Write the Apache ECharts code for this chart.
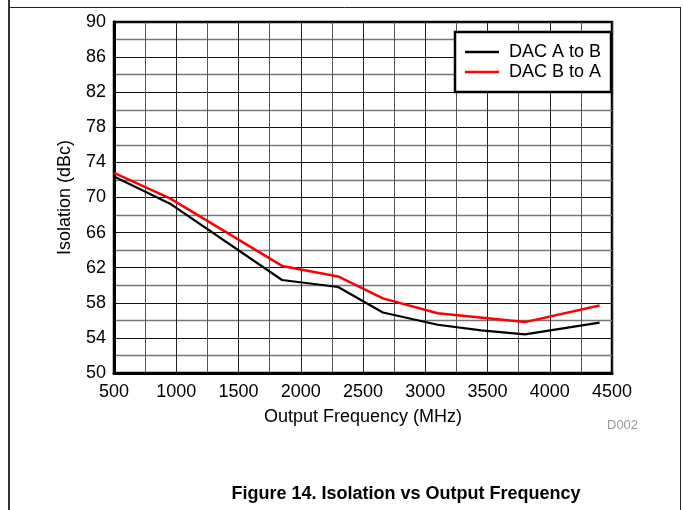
<!DOCTYPE html>
<html>
<head>
<meta charset="utf-8">
<script src="https://cdn.jsdelivr.net/npm/echarts@6/dist/echarts.min.js"></script>
<style>
html,body{margin:0;padding:0;background:#fff;}
#chart{width:683px;height:510px;}
</style>
</head>
<body>
<div id="chart"></div>
<script>
// Data
const seriesNames = ["DAC A to B", "DAC B to A"];
const aFreq = [500, 950, 1850, 2300, 2660, 3100, 3450, 3800, 4400];
const aIsolation = [72.4, 69.3, 60.6, 59.8, 56.9, 55.5, 54.85, 54.4, 55.75];
const bFreq = [500, 950, 1850, 2300, 2660, 3100, 3800, 4400];
const bIsolation = [72.8, 69.9, 62.2, 61.0, 58.5, 56.8, 55.8, 57.7];
const xTicks = [500, 1000, 1500, 2000, 2500, 3000, 3500, 4000, 4500];
const yTicks = [50, 54, 58, 62, 66, 70, 74, 78, 82, 86, 90];

const FONT = "'Liberation Sans', Arial, sans-serif";
const pairs = (xs, ys) => xs.map((x, i) => [x, ys[i]]);

const chart = echarts.init(document.getElementById('chart'), null, {renderer: 'canvas'});
chart.setOption({
  animation: false,
  backgroundColor: '#fff',
  grid: {left: 114, top: 22, width: 498, height: 351, show: true,
         borderColor: '#000', borderWidth: 2.5, backgroundColor: 'transparent'},
  xAxis: {
    type: 'value', min: xTicks[0], max: xTicks[xTicks.length - 1], interval: 500,
    name: 'Output Frequency (MHz)', nameLocation: 'middle', nameGap: 35,
    nameTextStyle: {fontFamily: FONT, fontSize: 18, color: '#000'},
    axisLine: {show: true, onZero: false, lineStyle: {color: '#000', width: 3}},
    axisTick: {show: false},
    axisLabel: {fontFamily: FONT, fontSize: 18, color: '#000', margin: 10,
                formatter: v => String(v)},
    splitLine: {show: true, lineStyle: {color: '#222', width: 1}},
    minorTick: {show: false, splitNumber: 2},
    minorSplitLine: {show: true, lineStyle: {color: '#555', width: 1}}
  },
  yAxis: {
    type: 'value', min: yTicks[0], max: yTicks[yTicks.length - 1], interval: 4,
    name: 'Isolation (dBc)', nameLocation: 'middle', nameGap: 40, nameRotate: 90,
    nameTextStyle: {fontFamily: FONT, fontSize: 18, color: '#000'},
    axisLine: {show: true, onZero: false, lineStyle: {color: '#000', width: 3}},
    axisTick: {show: false},
    axisLabel: {fontFamily: FONT, fontSize: 18, color: '#000', margin: 8,
                formatter: v => String(v)},
    splitLine: {show: true, lineStyle: {color: '#111', width: 1}},
    minorTick: {show: false, splitNumber: 2},
    minorSplitLine: {show: true, lineStyle: {color: '#777', width: 1.3}}
  },
  legend: {
    show: true, orient: 'vertical', left: 455, top: 32,
    padding: [10, 10, 10, 10], itemGap: 0, itemWidth: 34, itemHeight: 2.5,
    itemStyle: {borderWidth: 0},
    icon: 'rect', align: 'left',
    borderColor: '#000', borderWidth: 2.5, backgroundColor: '#fff',
    textStyle: {fontFamily: FONT, fontSize: 18, color: '#000', lineHeight: 20, padding: [0, 0, 0, 5]},
    data: seriesNames
  },
  series: [
    {name: seriesNames[0], type: 'line', data: pairs(aFreq, aIsolation), showSymbol: false,
     symbol: 'none', color: '#000', lineStyle: {color: '#000', width: 2.2}, z: 3},
    {name: seriesNames[1], type: 'line', data: pairs(bFreq, bIsolation), showSymbol: false,
     symbol: 'none', color: '#ff0000', lineStyle: {color: '#ff0000', width: 2.5}, z: 4}
  ],
  graphic: [
    {type: 'line', shape: {x1: 9, y1: 0, x2: 9, y2: 510}, style: {stroke: '#000', lineWidth: 1.6}, silent: true},
    {type: 'line', shape: {x1: 9, y1: 7.5, x2: 680, y2: 7.5}, style: {stroke: '#222', lineWidth: 1}, silent: true},
    {type: 'line', shape: {x1: 680.5, y1: 7, x2: 680.5, y2: 510}, style: {stroke: '#222', lineWidth: 1}, silent: true},
    {type: 'text', left: 607, top: 419, style: {text: 'D002', fontFamily: FONT, fontSize: 13, fill: '#999'}},
    {type: 'text', x: 406, y: 494, style: {text: 'Figure 14. Isolation vs Output Frequency',
      fontFamily: FONT, fontSize: 18, fontWeight: 'bold', fill: '#000',
      textAlign: 'center', textVerticalAlign: 'middle'}}
  ]
});
</script>
</body>
</html>
